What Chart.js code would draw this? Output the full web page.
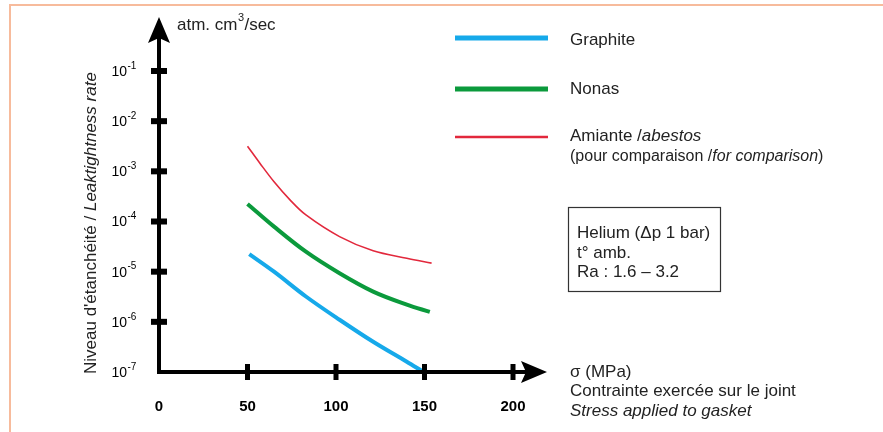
<!DOCTYPE html>
<html>
<head>
<meta charset="utf-8">
<script src="https://cdn.jsdelivr.net/npm/chart.js@4"></script>
<style>
  html, body { margin: 0; padding: 0; background: #fff; }
  #wrap { width: 883px; height: 432px; position: relative; }
</style>
</head>
<body>
<div id="wrap"><canvas id="myChart"></canvas></div>
<script>
// stress (MPa) and leak rate (atm.cm3/sec)
const graphiteX = [51, 65, 83, 102, 121, 140, 148.5];
const graphiteY = [2.24e-5, 1.0e-5, 3.2e-6, 1.1e-6, 4.0e-7, 1.6e-7, 1.05e-7];
const nonasX = [50, 65, 83, 102, 121, 140, 153];
const nonasY = [2.24e-4, 7.9e-5, 2.5e-5, 9.3e-6, 4.0e-6, 2.2e-6, 1.58e-6];
const amianteX = [50, 57, 65, 74, 83, 102, 121, 140, 154];
const amianteY = [3.16e-3, 1.45e-3, 6.2e-4, 2.7e-4, 1.35e-4, 5.0e-5, 2.6e-5, 1.85e-5, 1.48e-5];

const xTicks = [0, 50, 100, 150, 200];
const yTicks = [1e-7, 1e-6, 1e-5, 1e-4, 1e-3, 1e-2, 1e-1];
const yTickExp = ['-7', '-6', '-5', '-4', '-3', '-2', '-1'];

const BLUE = '#16a9ea';
const GREEN = '#0b9a3c';
const RED = '#e2283c';
const FONT = '"Liberation Sans", Arial, sans-serif';
const TXT = 17;

const toPoints = (xs, ys) => xs.map((x, i) => ({ x: x, y: ys[i] }));

// draws a line of text made of normal / italic pieces
const drawRuns = (ctx, x, y, size, runs) => {
    let cx = x;
    runs.forEach(r => {
        ctx.font = (r.italic ? 'italic ' : '') + size + 'px ' + FONT;
        ctx.fillText(r.t, cx, y);
        cx += ctx.measureText(r.t).width;
    });
};

const decor = {
    id: 'decor',
    afterDraw(chart) {
        const ctx = chart.ctx;
        const xs = chart.scales.x;
        const ys = chart.scales.y;
        const x0 = xs.getPixelForValue(0);
        const y0 = ys.getPixelForValue(1e-7);
        ctx.save();

        // frame
        ctx.strokeStyle = '#f7bb9c';
        ctx.lineWidth = 2;
        ctx.beginPath();
        ctx.moveTo(883, 5);
        ctx.lineTo(10, 5);
        ctx.lineTo(10, 432);
        ctx.stroke();

        // axes
        ctx.strokeStyle = '#000';
        ctx.fillStyle = '#000';
        ctx.lineWidth = 4;
        ctx.beginPath();
        ctx.moveTo(x0, y0 + 2);
        ctx.lineTo(x0, 36);
        ctx.moveTo(x0 - 2, y0);
        ctx.lineTo(530, y0);
        ctx.stroke();

        // arrow heads
        ctx.beginPath();
        ctx.moveTo(x0, 17);
        ctx.lineTo(x0 + 11, 43);
        ctx.lineTo(x0, 38);
        ctx.lineTo(x0 - 11, 43);
        ctx.closePath();
        ctx.fill();
        ctx.beginPath();
        ctx.moveTo(547, y0);
        ctx.lineTo(521, y0 - 11);
        ctx.lineTo(526, y0);
        ctx.lineTo(521, y0 + 11);
        ctx.closePath();
        ctx.fill();

        // tick marks + labels
        ctx.textBaseline = 'middle';
        yTicks.forEach((v, i) => {
            const py = ys.getPixelForValue(v);
            if (i > 0) ctx.fillRect(x0 - 8, py - 3, 16, 6);
            ctx.textAlign = 'right';
            ctx.font = '14px ' + FONT;
            ctx.fillText('10', 127, py + 1);
            ctx.textAlign = 'left';
            ctx.font = '10px ' + FONT;
            ctx.fillText(yTickExp[i], 127.5, py - 5);
        });
        xTicks.forEach(v => {
            const px = xs.getPixelForValue(v);
            if (v > 0) ctx.fillRect(px - 2.5, y0 - 8, 5, 16);
            ctx.textAlign = 'center';
            ctx.font = 'bold 15px ' + FONT;
            ctx.fillText(String(v), px, 407);
        });

        // axis titles
        ctx.textAlign = 'left';
        ctx.fillStyle = '#222';
        ctx.font = TXT + 'px ' + FONT;
        ctx.fillText('atm. cm', 177, 25);
        let w = ctx.measureText('atm. cm').width;
        ctx.font = '11px ' + FONT;
        ctx.fillText('3', 177 + w + 0.5, 18);
        ctx.font = TXT + 'px ' + FONT;
        ctx.fillText('/sec', 177 + w + 7, 25);

        ctx.save();
        ctx.translate(91, 374);
        ctx.rotate(-Math.PI / 2);
        drawRuns(ctx, 0, 0, TXT, [
            { t: 'Niveau d\'étanchéité / ' },
            { t: 'Leaktightness rate', italic: true }
        ]);
        ctx.restore();

        drawRuns(ctx, 570, 372, TXT, [{ t: 'σ (MPa)' }]);
        drawRuns(ctx, 570, 391, TXT, [{ t: 'Contrainte exercée sur le joint' }]);
        drawRuns(ctx, 570, 411, TXT, [{ t: 'Stress applied to gasket', italic: true }]);

        // legend
        const legend = [
            { c: BLUE, w: 5, y: 38 },
            { c: GREEN, w: 5, y: 89 },
            { c: RED, w: 2.5, y: 137 }
        ];
        legend.forEach(l => {
            ctx.strokeStyle = l.c;
            ctx.lineWidth = l.w;
            ctx.beginPath();
            ctx.moveTo(455, l.y);
            ctx.lineTo(548, l.y);
            ctx.stroke();
        });
        drawRuns(ctx, 570, 40, TXT, [{ t: 'Graphite' }]);
        drawRuns(ctx, 570, 89, TXT, [{ t: 'Nonas' }]);
        drawRuns(ctx, 570, 136, TXT, [{ t: 'Amiante /' }, { t: 'abestos', italic: true }]);
        drawRuns(ctx, 570, 157, 16, [
            { t: '(pour comparaison /' },
            { t: 'for comparison', italic: true },
            { t: ')' }
        ]);

        // conditions box
        ctx.strokeStyle = '#333';
        ctx.lineWidth = 1.2;
        ctx.strokeRect(568.5, 207.5, 152, 84);
        drawRuns(ctx, 577, 233, TXT, [{ t: 'Helium (Δp 1 bar)' }]);
        drawRuns(ctx, 577, 253, TXT, [{ t: 't° amb.' }]);
        drawRuns(ctx, 577, 272, TXT, [{ t: 'Ra : 1.6 – 3.2' }]);

        ctx.restore();
    }
};

const ctx = document.getElementById('myChart');

new Chart(ctx, {
    type: 'line',
    data: {
        datasets: [{
            label: 'Graphite',
            data: toPoints(graphiteX, graphiteY),
            borderColor: BLUE,
            borderWidth: 4
        }, {
            label: 'Nonas',
            data: toPoints(nonasX, nonasY),
            borderColor: GREEN,
            borderWidth: 4
        }, {
            label: 'Amiante',
            data: toPoints(amianteX, amianteY),
            borderColor: RED,
            borderWidth: 1.6
        }]
    },
    options: {
        responsive: true,
        maintainAspectRatio: false,
        animation: false,
        events: [],
        layout: {
            padding: { left: 159, right: 370, top: 71, bottom: 60 }
        },
        elements: {
            point: { radius: 0 },
            line: { tension: 0.35, fill: false, borderCapStyle: 'butt' }
        },
        plugins: {
            legend: { display: false },
            tooltip: { enabled: false }
        },
        scales: {
            x: { type: 'linear', min: 0, max: 200, display: false },
            y: { type: 'logarithmic', min: 1e-7, max: 1e-1, display: false }
        }
    },
    plugins: [decor]
});
</script>
</body>
</html>
